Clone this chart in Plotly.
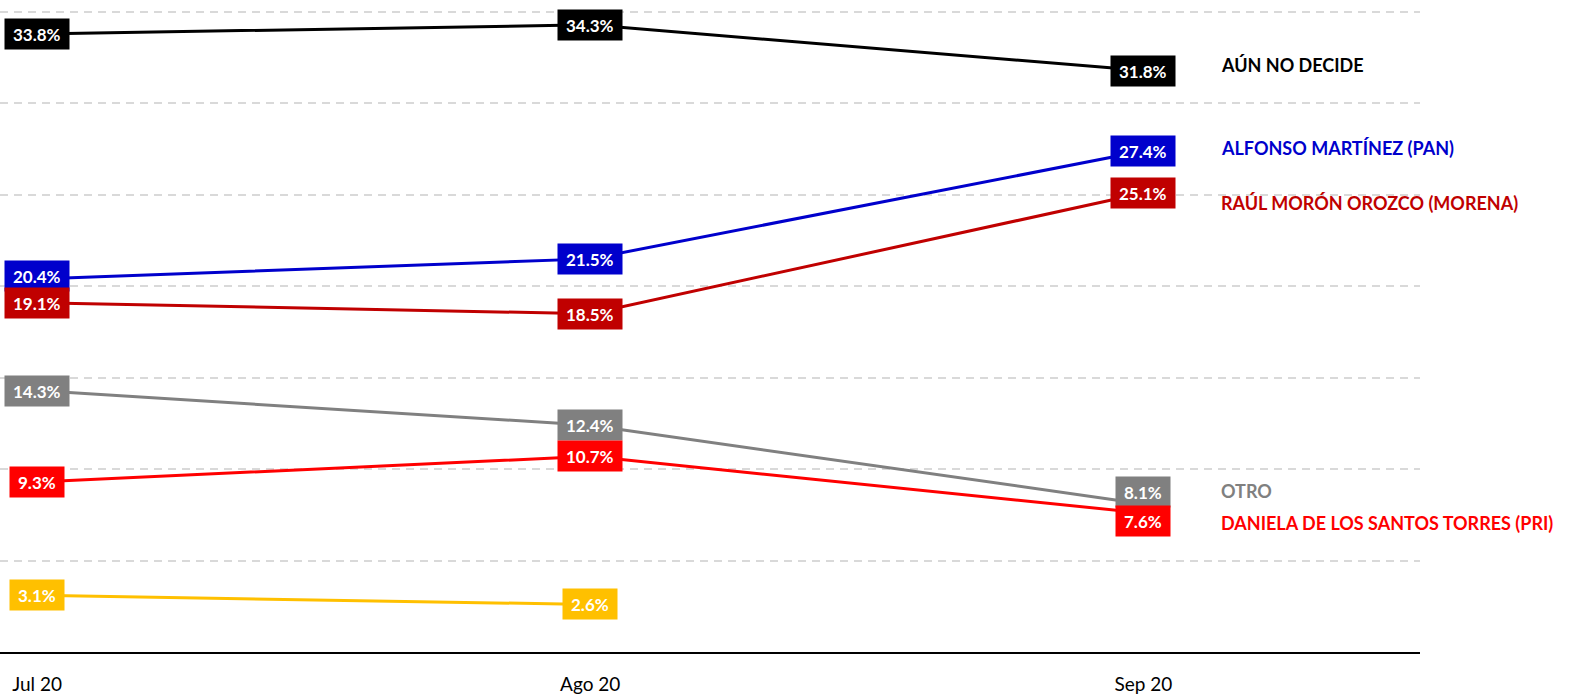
import plotly.graph_objects as go

categories = ["Jul 20", "Ago 20", "Sep 20"]

series_names = ["AÚN NO DECIDE", "ALFONSO MARTÍNEZ (PAN)", "RAÚL MORÓN OROZCO (MORENA)",
                "OTRO", "DANIELA DE LOS SANTOS TORRES (PRI)", ""]
aun_no_decide = [33.8, 34.3, 31.8]
alfonso_martinez = [20.4, 21.5, 27.4]
raul_moron = [19.1, 18.5, 25.1]
otro = [14.3, 12.4, 8.1]
daniela = [9.3, 10.7, 7.6]
otro_amarillo = [3.1, 2.6, None]

series_values = [aun_no_decide, alfonso_martinez, raul_moron, otro, daniela, otro_amarillo]
colors = ["#000000", "#0000CC", "#C00000", "#808080", "#FF0000", "#FFC000"]

# style: small pixel nudges for data labels / right-hand names
label_nudge = {(1, 0): 3, (3, 2): 12, (4, 2): -8}
name_nudge = [6, 3, -10, 13, -10, 0]

FONT = "Lato, Carlito, 'Open Sans', sans-serif"
xs = list(range(len(categories)))

fig = go.Figure()
annotations = []
for i, (name, vals, col) in enumerate(zip(series_names, series_values, colors)):
    fig.add_trace(go.Scatter(x=xs, y=vals, mode="lines", line=dict(color=col, width=3),
                             name=name, showlegend=False, hoverinfo="skip"))
for i, (name, vals, col) in enumerate(zip(series_names, series_values, colors)):
    for j, v in enumerate(vals):
        if v is None:
            continue
        annotations.append(dict(
            x=xs[j], y=v, xref="x", yref="y", text=f"<b>{v:.1f}%</b>", showarrow=False,
            bgcolor=col, font=dict(family=FONT, size=17, color="white"),
            borderpad=8, height=14, xanchor="center", yanchor="middle",
            yshift=label_nudge.get((i, j), 0)))
    if name:
        annotations.append(dict(
            x=xs[-1], y=vals[-1], xref="x", yref="y", text=f"<b>{name}</b>", showarrow=False,
            font=dict(family=FONT, size=18, color=col), xanchor="left", yanchor="middle",
            xshift=76, yshift=name_nudge[i]))

fig.update_layout(
    width=1570, height=695,
    margin=dict(l=0, r=150, t=6, b=43),
    paper_bgcolor="white", plot_bgcolor="white",
    annotations=annotations,
    xaxis=dict(range=[-0.067, 2.5], tickvals=xs, ticktext=categories, showgrid=False,
               zeroline=False, showline=True, linecolor="black", linewidth=2,
               ticks="", ticklabelstandoff=14,
               tickfont=dict(family=FONT, size=19, color="#000000")),
    yaxis=dict(range=[0, 35.33], tickvals=[5, 10, 15, 20, 25, 30, 35], showgrid=True,
               gridcolor="#D9D9D9", gridwidth=1.5,
               griddash="8px,6px", zeroline=False, showticklabels=False, ticks=""),
)

fig.write_html("out.html", config={"displayModeBar": False},
               post_script="document.body.style.margin='0';document.body.style.overflow='hidden';")
